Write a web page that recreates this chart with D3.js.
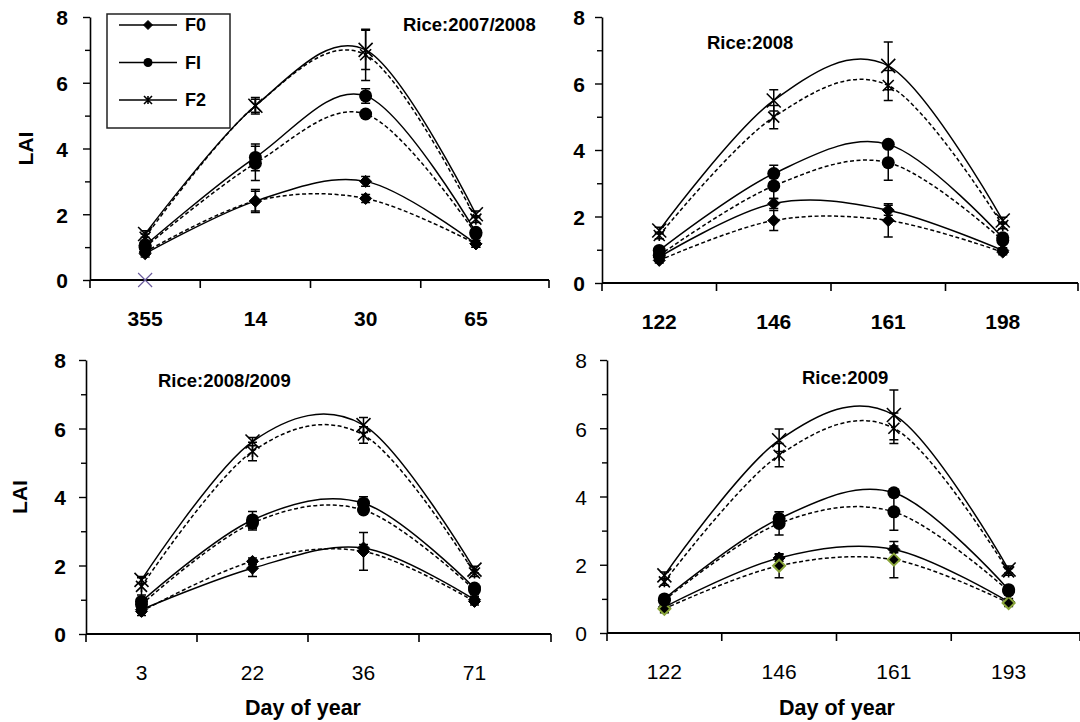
<!DOCTYPE html>
<html>
<head>
<meta charset="utf-8">
<script src="https://cdn.jsdelivr.net/npm/d3@7"></script>
<style>
  body { margin: 0; background: #fff; }
  svg { font-family: "Liberation Sans", Arial, sans-serif; }
</style>
</head>
<body>
<div id="chart"></div>
<script>
// categories (day of year)
var cats1 = ['355', '14', '30', '65'];
var cats2 = ['122', '146', '161', '198'];
var cats3 = ['3', '22', '36', '71'];
var cats4 = ['122', '146', '161', '193'];
var yTicks = [0, 2, 4, 6, 8];
var yMinor = [1, 3, 5, 7];

// Rice:2007/2008  (solid = a, dashed = b, e = error)
var p1F0a = [0.8, 2.4, 3.0, 1.1],    p1F0ae = [0.1, 0.35, 0.15, 0.1];
var p1F0b = [0.85, 2.4, 2.48, 1.1],  p1F0be = [0.1, 0.3, 0.12, 0.1];
var p1F1a = [1.05, 3.73, 5.6, 1.45], p1F1ae = [0.15, 0.41, 0.22, 0.1];
var p1F1b = [1.0, 3.55, 5.05, 1.4],  p1F1be = [0.1, 0.52, 0.1, 0.1];
var p1F2a = [1.4, 5.3, 7.0, 2.0],    p1F2ae = [0.1, 0.25, 0.6, 0.1];
var p1F2b = [1.3, 5.3, 6.85, 1.85],  p1F2be = [0.1, 0.2, 0.78, 0.1];

// Rice:2008
var p2F0a = [0.78, 2.39, 2.19, 0.98], p2F0ae = [0.08, 0.15, 0.15, 0.08];
var p2F0b = [0.68, 1.88, 1.88, 0.93], p2F0be = [0.08, 0.3, 0.5, 0.08];
var p2F1a = [0.98, 3.29, 4.17, 1.36], p2F1ae = [0.1, 0.25, 0.1, 0.1];
var p2F1b = [0.83, 2.92, 3.62, 1.28], p2F1be = [0.1, 0.38, 0.53, 0.1];
var p2F2a = [1.58, 5.49, 6.53, 1.88], p2F2ae = [0.1, 0.32, 0.72, 0.1];
var p2F2b = [1.43, 4.99, 5.94, 1.73], p2F2be = [0.1, 0.35, 0.45, 0.1];

// Rice:2008/2009
var p3F0a = [0.71, 1.92, 2.51, 1.0],  p3F0ae = [0.1, 0.24, 0.1, 0.1];
var p3F0b = [0.66, 2.12, 2.41, 0.95], p3F0be = [0.12, 0.1, 0.55, 0.1];
var p3F1a = [0.95, 3.33, 3.82, 1.34], p3F1ae = [0.1, 0.25, 0.19, 0.1];
var p3F1b = [0.86, 3.24, 3.62, 1.29], p3F1be = [0.1, 0.2, 0.1, 0.1];
var p3F2a = [1.58, 5.62, 6.1, 1.88],  p3F2ae = [0.1, 0.12, 0.22, 0.1];
var p3F2b = [1.39, 5.33, 5.81, 1.78], p3F2be = [0.25, 0.27, 0.24, 0.1];

// Rice:2009
var p4F0a = [0.76, 2.2, 2.45, 0.91],  p4F0ae = [0.1, 0.1, 0.1, 0.1];
var p4F0b = [0.71, 1.97, 2.15, 0.88], p4F0be = [0.12, 0.35, 0.53, 0.1];
var p4F1a = [1.0, 3.35, 4.11, 1.27],  p4F1ae = [0.1, 0.2, 0.1, 0.1];
var p4F1b = [0.96, 3.21, 3.55, 1.23], p4F1be = [0.1, 0.34, 0.54, 0.1];
var p4F2a = [1.69, 5.65, 6.39, 1.86], p4F2ae = [0.1, 0.33, 0.73, 0.1];
var p4F2b = [1.5, 5.21, 6.0, 1.79],   p4F2be = [0.1, 0.34, 0.45, 0.1];

var legendNames = ['F0', 'FI', 'F2'];

function seriesOf(a) {
    return [
        {mark: 'diamond', dash: false, v: a[0], e: a[1]},
        {mark: 'diamond', dash: true, v: a[2], e: a[3]},
        {mark: 'circle', dash: false, v: a[4], e: a[5]},
        {mark: 'circle', dash: true, v: a[6], e: a[7]},
        {mark: 'cross', dash: false, v: a[8], e: a[9]},
        {mark: 'star', dash: true, v: a[10], e: a[11]}
    ];
}

var panels = [
    {cats: cats1, title: 'Rice:2007/2008', bold: true, ylab: true, xlab: false,
     x0: 90, x1: 531, xEnd: 549, yTop: 17, yBot: 280, tx: 403, ty: 31, lgap: 22, ylx: 26,
     series: seriesOf([p1F0a, p1F0ae, p1F0b, p1F0be, p1F1a, p1F1ae, p1F1b, p1F1be, p1F2a, p1F2ae, p1F2b, p1F2be])},
    {cats: cats2, title: 'Rice:2008', bold: true, ylab: false, xlab: false,
     x0: 602, x1: 1060, xEnd: 1078, yTop: 17, yBot: 283, tx: 707, ty: 49, lgap: 17,
     series: seriesOf([p2F0a, p2F0ae, p2F0b, p2F0be, p2F1a, p2F1ae, p2F1b, p2F1be, p2F2a, p2F2ae, p2F2b, p2F2be])},
    {cats: cats3, title: 'Rice:2008/2009', bold: false, boldY: true, ylab: true, xlab: true,
     x0: 86, x1: 530, xEnd: 551, yTop: 360, yBot: 634, tx: 158, ty: 387, lgap: 20, ylx: 20,
     series: seriesOf([p3F0a, p3F0ae, p3F0b, p3F0be, p3F1a, p3F1ae, p3F1b, p3F1be, p3F2a, p3F2ae, p3F2b, p3F2be])},
    {cats: cats4, title: 'Rice:2009', bold: false, ylab: false, xlab: true, green: true,
     x0: 607, x1: 1066, xEnd: 1080, yTop: 360, yBot: 633, tx: 802, ty: 384, lgap: 20,
     series: seriesOf([p4F0a, p4F0ae, p4F0b, p4F0be, p4F1a, p4F1ae, p4F1b, p4F1be, p4F2a, p4F2ae, p4F2b, p4F2be])}
];

var svg = d3.select('#chart').append('svg')
    .attr('width', 1080)
    .attr('height', 722);

function drawMark(g, type, cx, cy, big, opts) {
    opts = opts || {};
    if (type === 'circle') {
        g.append('circle').attr('cx', cx).attr('cy', cy).attr('r', big ? 6.5 : 4.5).attr('fill', '#000');
    } else if (type === 'diamond') {
        var s = big ? 6 : 4.5;
        g.append('path')
            .attr('d', 'M' + cx + ',' + (cy - s) + 'L' + (cx + s) + ',' + cy + 'L' + cx + ',' + (cy + s) + 'L' + (cx - s) + ',' + cy + 'Z')
            .attr('fill', '#000')
            .attr('stroke', opts.stroke || '#000')
            .attr('stroke-width', opts.stroke ? 2 : 1);
    } else {
        var r = big ? (type === 'cross' ? 7 : 5.5) : 4;
        var d = 'M' + (cx - r) + ',' + (cy - r) + 'L' + (cx + r) + ',' + (cy + r) +
            'M' + (cx - r) + ',' + (cy + r) + 'L' + (cx + r) + ',' + (cy - r);
        if (type === 'star') d += 'M' + cx + ',' + (cy - r) + 'L' + cx + ',' + (cy + r);
        g.append('path').attr('d', d).attr('stroke', opts.color || '#000').attr('stroke-width', opts.sw || 1.6).attr('fill', 'none');
    }
}

panels.forEach(function (p, pi) {
    var g = svg.append('g');

    var x = d3.scaleBand().domain(p.cats).range([p.x0, p.x1]);
    var y = d3.scaleLinear().domain([0, 8]).range([p.yBot, p.yTop]);
    var edges = d3.range(p.cats.length).map(function (i) { return p.x0 + i * x.step(); });
    var tickFont = p.bold ? 'bold' : 'normal';
    var yFont = (p.bold || p.boldY) ? 'bold' : 'normal';

    // y axis
    var yAxis = g.append('g')
        .attr('transform', 'translate(' + p.x0 + ',0)')
        .call(d3.axisLeft(y).tickValues(yTicks).tickSize(7).tickPadding(p.lgap - 7).tickSizeOuter(0));
    yAxis.selectAll('text').attr('font-size', 21).attr('font-weight', yFont).attr('fill', '#000').attr('dy', '0.38em');
    g.append('g')
        .attr('transform', 'translate(' + p.x0 + ',0)')
        .call(d3.axisLeft(y).tickValues(yMinor).tickSize(5).tickFormat('').tickSizeOuter(0))
        .select('.domain').remove();

    // x axis line with ticks at category boundaries
    g.append('line')
        .attr('x1', p.x0).attr('x2', p.xEnd)
        .attr('y1', p.yBot).attr('y2', p.yBot)
        .attr('stroke', '#000').attr('stroke-width', 2);
    edges.concat([p.xEnd]).forEach(function (ex) {
        g.append('line')
            .attr('x1', ex).attr('x2', ex)
            .attr('y1', p.yBot).attr('y2', p.yBot + 8)
            .attr('stroke', '#000').attr('stroke-width', 1.6);
    });
    var xAxis = g.append('g')
        .attr('transform', 'translate(0,' + p.yBot + ')')
        .call(d3.axisBottom(x).tickSize(0).tickPadding(31));
    xAxis.select('.domain').remove();
    xAxis.selectAll('text').attr('font-size', 21).attr('font-weight', tickFont).attr('fill', '#000');
    g.selectAll('.domain').attr('stroke-width', 1.6);
    g.selectAll('.tick line').attr('stroke-width', 1.4);

    // curves
    var line = d3.line()
        .x(function (d, i) { return x(p.cats[i]) + x.bandwidth() / 2; })
        .y(function (d) { return y(d); })
        .curve(d3.curveCardinal.tension(0));
    p.series.forEach(function (s) {
        g.append('path')
            .attr('d', line(s.v))
            .attr('fill', 'none')
            .attr('stroke', '#000')
            .attr('stroke-width', 1.5)
            .attr('stroke-dasharray', s.dash ? '4,2.5' : null);
    });

    // error bars
    p.series.forEach(function (s) {
        s.v.forEach(function (v, i) {
            var cx = x(p.cats[i]) + x.bandwidth() / 2;
            var lo = y(v - s.e[i]), hi = y(v + s.e[i]);
            g.append('path')
                .attr('d', 'M' + cx + ',' + lo + 'V' + hi + 'M' + (cx - 4.5) + ',' + lo + 'H' + (cx + 4.5) + 'M' + (cx - 4.5) + ',' + hi + 'H' + (cx + 4.5))
                .attr('stroke', '#000').attr('stroke-width', 1.5).attr('fill', 'none');
        });
    });

    // markers
    p.series.forEach(function (s) {
        s.v.forEach(function (v, i) {
            var cx = x(p.cats[i]) + x.bandwidth() / 2;
            var opts = (p.green && s.mark === 'diamond' && s.dash) ? {stroke: '#8aa53a'} : {};
            drawMark(g, s.mark, cx, y(v), true, opts);
        });
    });

    // stray marker at zero in first panel
    if (pi === 0) {
        drawMark(g, 'cross', x(p.cats[0]) + x.bandwidth() / 2, y(0), true, {color: '#6a5a9c', sw: 1.1});
    }

    // title
    g.append('text')
        .attr('x', p.tx).attr('y', p.ty)
        .attr('font-size', 18.5).attr('font-weight', 'bold')
        .text(p.title);

    if (p.ylab) {
        var cy = (p.yTop + p.yBot) / 2;
        g.append('text')
            .attr('transform', 'translate(' + (p.ylx + 7) + ',' + cy + ') rotate(-90)')
            .attr('text-anchor', 'middle')
            .attr('font-size', 21).attr('font-weight', 'bold')
            .text('LAI');
    }
    if (p.xlab) {
        g.append('text')
            .attr('x', pi === 2 ? 303 : 837).attr('y', 715)
            .attr('text-anchor', 'middle')
            .attr('font-size', 21.5).attr('font-weight', 'bold')
            .text('Day of year');
    }
});

// legend in first panel
var lg = svg.append('g');
lg.append('rect')
    .attr('x', 107).attr('y', 14).attr('width', 123).attr('height', 114)
    .attr('fill', '#fff').attr('stroke', '#222').attr('stroke-width', 1.5);
var legendMarks = ['diamond', 'circle', 'star'];
legendNames.forEach(function (name, i) {
    var ly = 25 + i * 37.5;
    lg.append('line')
        .attr('x1', 119).attr('x2', 177).attr('y1', ly).attr('y2', ly)
        .attr('stroke', '#000').attr('stroke-width', 1.5);
    drawMark(lg, legendMarks[i], 148, ly, false);
    lg.append('text')
        .attr('x', 185).attr('y', ly).attr('dy', '0.36em')
        .attr('font-size', 18).attr('font-weight', 'bold')
        .text(name);
});
</script>
</body>
</html>
